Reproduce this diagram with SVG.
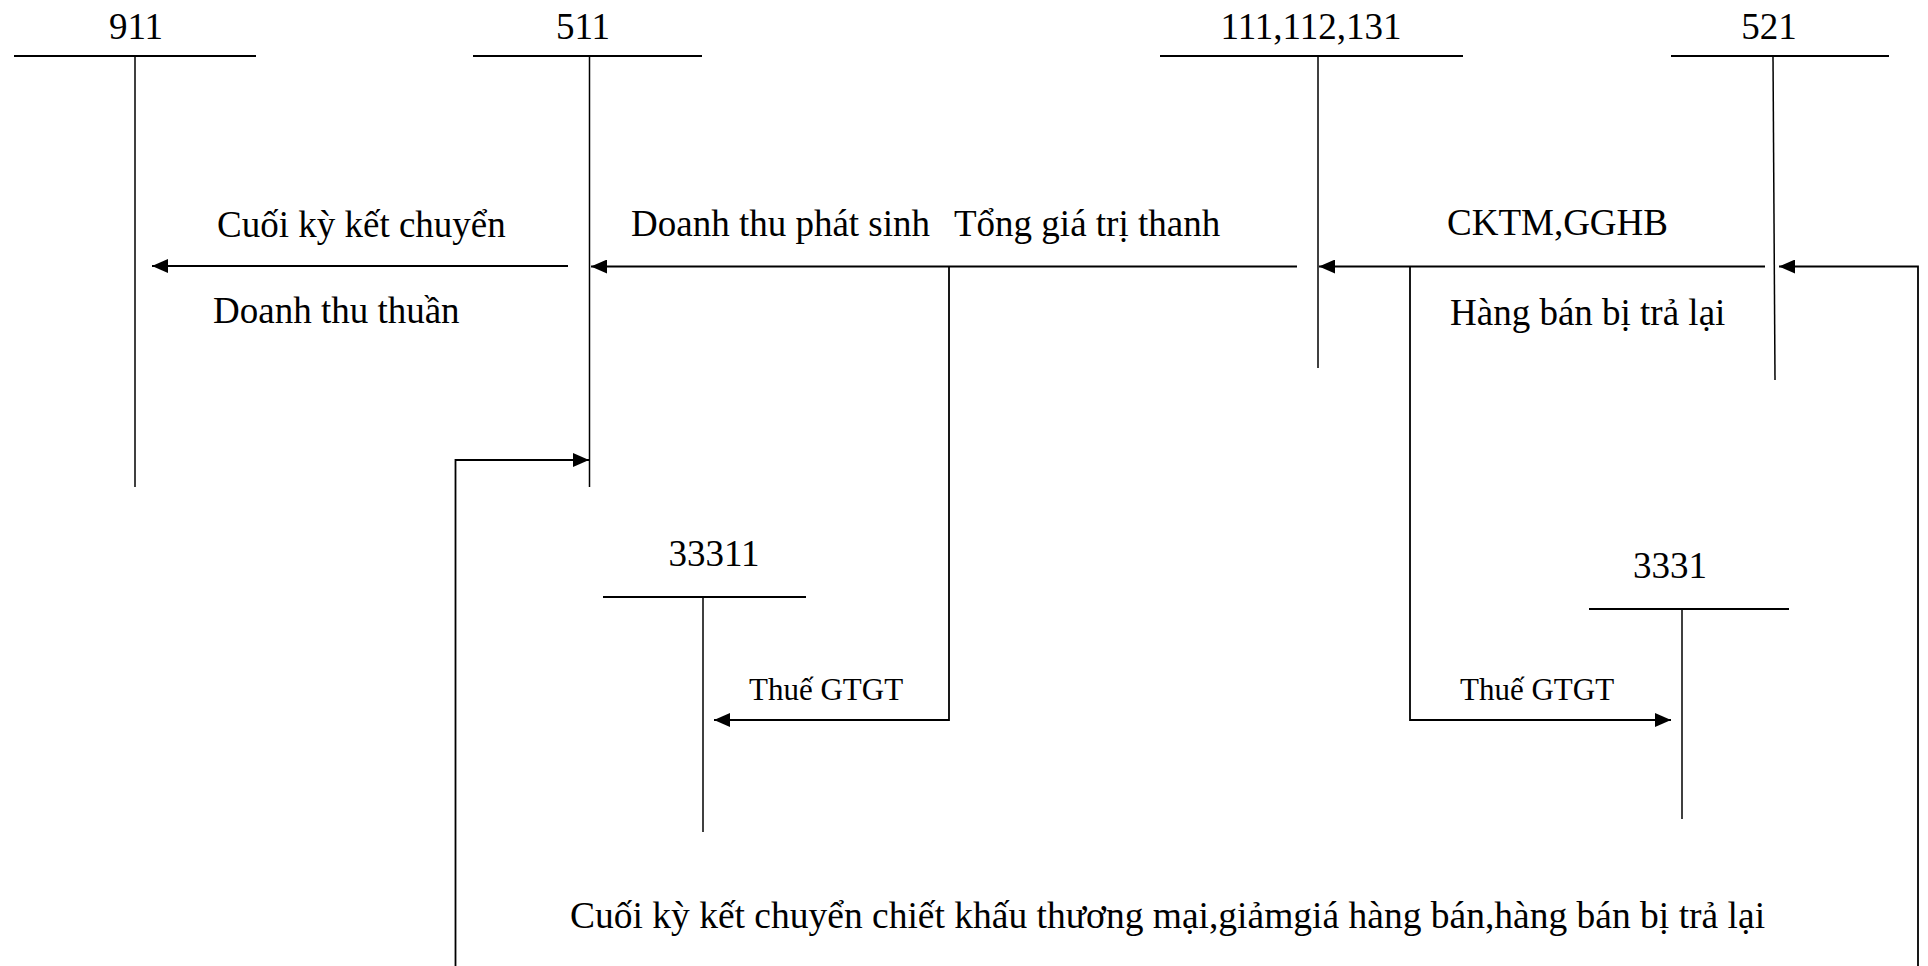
<svg xmlns="http://www.w3.org/2000/svg" width="1928" height="966" viewBox="0 0 1928 966">
<style>
.hdr{stroke:#000;stroke-width:2.2;fill:none}
.v{stroke:#000;stroke-width:1.5;fill:none}
.c{stroke:#000;stroke-width:1.8;fill:none}
.t{font-family:"Liberation Serif","Times New Roman",serif;font-size:37px;fill:#000}
.s{font-family:"Liberation Serif","Times New Roman",serif;font-size:31px;fill:#000}
.m{text-anchor:middle}
</style>
<defs>
<marker id="ah" viewBox="0 0 16 14" refX="16" refY="7" markerWidth="16" markerHeight="14" markerUnits="userSpaceOnUse" orient="auto">
<path d="M0,0 L16,7 L0,14 Z" fill="#000"/>
</marker>
</defs>
<rect width="1928" height="966" fill="#fff"/>
<g id="acc911">
<text class="t m" x="136" y="39">911</text>
<line class="hdr" x1="14" y1="56" x2="256" y2="56"/>
<line class="v" x1="135" y1="56" x2="135" y2="487"/>
</g>
<g id="acc511">
<text class="t m" x="583" y="39">511</text>
<line class="hdr" x1="473" y1="56" x2="702" y2="56"/>
<line class="v" x1="589.5" y1="56" x2="589.5" y2="487"/>
</g>
<g id="acc111">
<text class="t m" x="1311" y="39">111,112,131</text>
<line class="hdr" x1="1160" y1="56" x2="1463" y2="56"/>
<line class="v" x1="1318" y1="56" x2="1318" y2="368"/>
</g>
<g id="acc521">
<text class="t m" x="1769" y="39">521</text>
<line class="hdr" x1="1671" y1="56" x2="1889" y2="56"/>
<line class="v" x1="1773" y1="56" x2="1775" y2="380"/>
</g>
<g id="acc33311">
<text class="t m" x="714" y="566">33311</text>
<line class="hdr" x1="603" y1="597" x2="806" y2="597"/>
<line class="v" x1="703" y1="597" x2="703" y2="832"/>
</g>
<g id="acc3331">
<text class="t m" x="1670" y="578">3331</text>
<line class="hdr" x1="1589" y1="609" x2="1789" y2="609"/>
<line class="v" x1="1682" y1="609" x2="1682" y2="819"/>
</g>
<g id="connectors">
<line class="c" x1="568" y1="266" x2="152" y2="266" marker-end="url(#ah)"/>
<line class="c" x1="1297" y1="266.5" x2="591" y2="266.5" marker-end="url(#ah)"/>
<line class="c" x1="1765" y1="266.5" x2="1319" y2="266.5" marker-end="url(#ah)"/>
<polyline class="c" points="1918,966 1918,266.5 1779,266.5" marker-end="url(#ah)"/>
<polyline class="c" points="949,266.5 949,720 714,720" marker-end="url(#ah)"/>
<polyline class="c" points="1410,266.5 1410,720 1671,720" marker-end="url(#ah)"/>
<polyline class="c" points="455.5,966 455.5,460 589,460" marker-end="url(#ah)"/>
</g>
<g id="labels">
<text class="t" x="217" y="237">Cuối kỳ kết chuyển</text>
<text class="t" x="213" y="323">Doanh thu thuần</text>
<text class="t" x="631" y="236">Doanh thu phát sinh</text>
<text class="t" x="954" y="236">Tổng giá trị thanh</text>
<text class="t" x="1447" y="235">CKTM,GGHB</text>
<text class="t" x="1450" y="325">Hàng bán bị trả lại</text>
<text class="s" x="749" y="700">Thuế GTGT</text>
<text class="s" x="1460" y="700">Thuế GTGT</text>
<text class="t" x="570" y="928" style="font-size:37.5px">Cuối kỳ kết chuyển chiết khấu thương mại,giảmgiá hàng bán,hàng bán bị trả lại</text>
</g>
</svg>
